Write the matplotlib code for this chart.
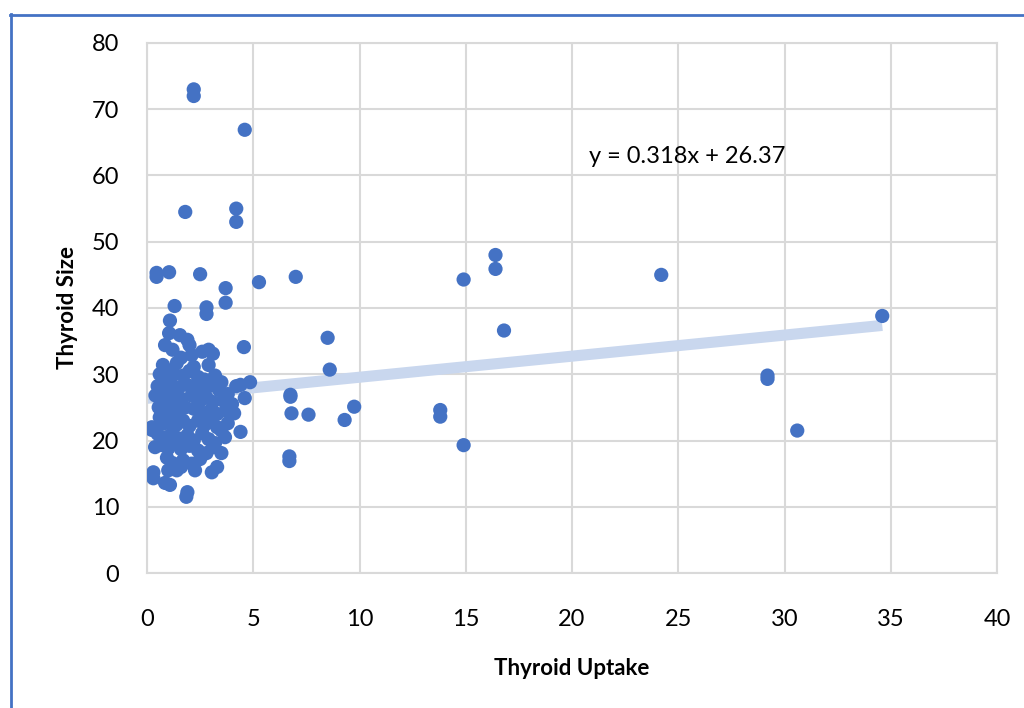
import matplotlib.pyplot as plt
from matplotlib.lines import Line2D
import numpy as np

plt.rcParams['font.family'] = ['Lato', 'DejaVu Sans']

# Thyroid uptake (x) and thyroid size (y)
uptake = [
    # outliers / sparse points
    2.2, 2.2, 4.6, 1.8, 4.2, 4.2, 0.45, 0.45, 1.04, 2.5, 3.7, 5.27, 1.3, 2.8, 2.8, 3.7,
    1.08, 4.56, 7.0, 8.5, 8.6, 14.9, 16.4, 16.4, 16.8, 24.2, 34.6, 29.2, 29.2, 30.6,
    14.9, 13.8, 13.8, 9.75, 9.3, 7.6, 6.75, 6.75, 6.8, 6.7, 6.7,
    # upper part of the cluster
    1.04, 1.55, 1.9, 0.85, 2.0, 1.2, 2.1, 2.6, 2.9, 3.1, 0.75, 1.4, 2.2, 2.9, 1.6,
    1.0, 0.6, 0.9, 1.3, 1.7, 2.0, 2.4, 2.7, 3.2, 3.5, 0.5, 0.8, 1.1, 1.5, 1.9,
    2.3, 2.6, 3.0, 3.4, 3.8, 4.2, 4.4, 4.85, 4.6, 0.4, 0.7, 1.0, 1.3, 1.6, 2.1,
    2.5, 2.8, 3.1, 3.6, 4.0, 0.55, 0.9, 1.2, 1.5, 1.8, 2.2, 2.6, 3.0, 3.3, 3.7, 4.1,
    # middle part
    0.23, 0.23, 0.6, 0.8, 1.1, 1.4, 1.7, 2.0, 2.4, 2.7, 3.0, 3.3, 3.8, 4.4, 0.5,
    0.9, 1.2, 1.5, 1.9, 2.2, 2.6, 2.9, 3.2, 3.67, 3.5, 0.38, 0.7, 1.0, 1.3, 1.6,
    2.0, 2.4, 2.8, 3.5, 3.1,
    # lower part
    0.94, 1.7, 1.2, 2.1, 2.5, 1.0, 1.4, 2.26, 3.05, 3.3, 0.3, 0.3, 0.85, 1.08,
    1.9, 1.85, 1.6,
]
size = [
    73.0, 72.0, 66.9, 54.5, 55.0, 53.0, 45.3, 44.7, 45.4, 45.1, 43.0, 43.9, 40.3, 40.1, 39.1, 40.8,
    38.1, 34.1, 44.7, 35.5, 30.7, 44.3, 48.0, 45.9, 36.6, 45.0, 38.8, 29.8, 29.3, 21.5,
    19.3, 24.6, 23.6, 25.1, 23.1, 23.9, 26.9, 26.6, 24.1, 17.6, 16.9,
    36.2, 35.9, 35.2, 34.4, 34.4, 33.7, 32.9, 33.4, 33.7, 33.1, 31.4, 31.7, 31.1, 31.4, 32.5,
    30.5, 30.0, 29.5, 30.0, 29.8, 30.5, 29.6, 29.2, 29.8, 28.8, 28.2, 27.8, 28.5, 28.0, 28.4,
    28.0, 27.5, 28.3, 27.6, 27.0, 28.2, 28.4, 28.8, 26.4, 26.8, 26.2, 26.6, 27.0, 26.3, 26.8,
    26.0, 26.5, 25.8, 26.0, 25.5, 25.0, 24.6, 25.2, 24.5, 25.0, 24.8, 24.2, 24.6, 24.0, 24.5, 24.1,
    22.0, 21.6, 23.5, 22.6, 23.2, 22.4, 23.0, 22.2, 23.0, 22.3, 22.8, 22.0, 22.6, 21.3, 21.0,
    20.5, 21.2, 20.3, 20.8, 20.0, 21.1, 20.2, 19.6, 20.5, 21.5, 19.0, 19.3, 18.8, 19.5, 18.7,
    19.2, 18.5, 18.1, 18.1, 19.0,
    17.4, 17.0, 16.6, 16.5, 17.2, 15.5, 15.5, 15.5, 15.2, 16.0, 15.2, 14.3, 13.6, 13.3,
    12.2, 11.5, 16.0,
]

# trendline as reported on the chart
slope = 0.318
intercept = 26.37

blue = '#4472C4'
grid_c = '#D9D9D9'

fig = plt.figure(figsize=(10.24, 7.08), dpi=100)
ax = fig.add_axes([147 / 1024, 1 - 573 / 708, 850 / 1024, 530 / 708])

# trendline across the data range
tx = np.array([0, max(uptake)])
ax.plot(tx, slope * tx + intercept, color='#C9D7EE', linewidth=8, solid_capstyle='butt', zorder=2)

ax.scatter(uptake, size, s=105, color=blue, edgecolors='none', zorder=3)

ax.text(25.4, 62.8, f'y = {slope}x + {intercept}', ha='center', va='center', fontsize=17)

ax.set_xlim(0, 40)
ax.set_ylim(0, 80)
ax.set_xticks(range(0, 41, 5))
ax.set_yticks(range(0, 81, 10))
ax.grid(True, color=grid_c, linewidth=1.5)
ax.set_axisbelow(True)
for sp in ax.spines.values():
    sp.set_color(grid_c)
    sp.set_linewidth(1.5)
ax.tick_params(axis='x', length=0, labelsize=17, pad=26)
ax.tick_params(axis='y', length=0, labelsize=17, pad=20)

ax.set_xlabel('Thyroid Uptake', fontsize=16, fontweight='bold', labelpad=20)
ax.set_ylabel('Thyroid Size', fontsize=16, fontweight='bold', labelpad=10)

# blue frame around the chart (top and left visible)
fig.add_artist(Line2D([10.5 / 1024, 10.5 / 1024], [0, 1 - 14 / 708], color=blue, linewidth=2))
fig.add_artist(Line2D([10 / 1024, 1], [1 - 14.5 / 708, 1 - 14.5 / 708], color=blue, linewidth=2))

fig.savefig('out.png', dpi=100)
